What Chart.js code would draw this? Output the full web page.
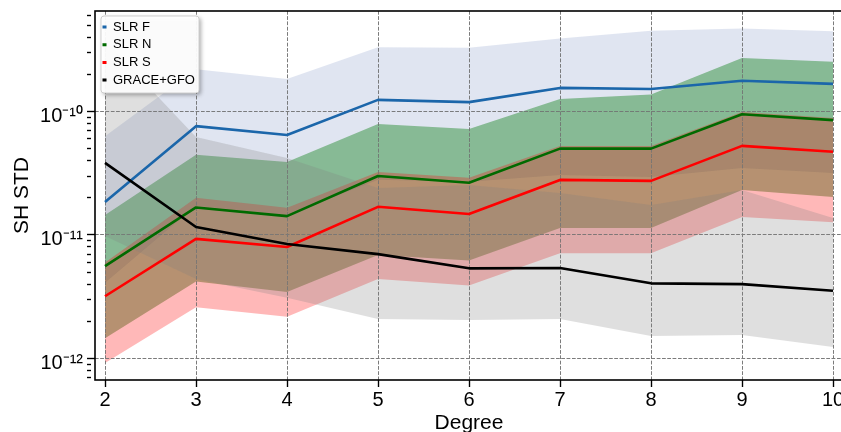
<!DOCTYPE html>
<html>
<head>
<meta charset="utf-8">
<script src="https://cdn.jsdelivr.net/npm/chart.js@4.4.1/dist/chart.umd.min.js"></script>
<style>
html,body{margin:0;padding:0;overflow:hidden;background:#fff}
#wrap{width:860px;height:440px}
</style>
</head>
<body>
<div id="wrap"><canvas id="c" width="860" height="440"></canvas></div>
<script>
// ---------- data ----------
const degrees = [2, 3, 4, 5, 6, 7, 8, 9, 10];
const xTickLabels = ['2', '3', '4', '5', '6', '7', '8', '9', '10'];

const slrF      = [1.85e-11, 7.6e-11, 6.45e-11, 1.24e-10, 1.19e-10, 1.55e-10, 1.52e-10, 1.77e-10, 1.67e-10];
const slrFUpper = [6.3e-11, 2.2e-10, 1.83e-10, 3.3e-10, 3.27e-10, 3.9e-10, 4.5e-10, 4.7e-10, 4.45e-10];
const slrFLower = [4.1e-12, 1.72e-11, 1.45e-11, 2.8e-11, 2.7e-11, 3.06e-11, 2.95e-11, 3.49e-11, 3.18e-11];

const slrN      = [5.6e-12, 1.67e-11, 1.42e-11, 3.0e-11, 2.65e-11, 5.0e-11, 5.0e-11, 9.5e-11, 8.5e-11];
const slrNUpper = [1.45e-11, 4.45e-11, 3.9e-11, 7.9e-11, 7.2e-11, 1.26e-10, 1.37e-10, 2.71e-10, 2.52e-10];
const slrNLower = [1.46e-12, 4.2e-12, 3.45e-12, 6.9e-12, 6.2e-12, 1.14e-11, 1.14e-11, 2.31e-11, 2.03e-11];

const slrS      = [3.19e-12, 9.3e-12, 8.0e-12, 1.69e-11, 1.48e-11, 2.79e-11, 2.74e-11, 5.26e-11, 4.72e-11];
const slrSUpper = [6.0e-12, 2.0e-11, 1.66e-11, 3.24e-11, 2.9e-11, 5.26e-11, 5.26e-11, 9.9e-11, 8.86e-11];
const slrSLower = [9.2e-13, 2.6e-12, 2.18e-12, 4.4e-12, 3.9e-12, 7.1e-12, 7.1e-12, 1.4e-11, 1.27e-11];

const grace      = [3.83e-11, 1.16e-11, 8.45e-12, 7.0e-12, 5.37e-12, 5.4e-12, 4.06e-12, 4.0e-12, 3.54e-12];
const graceUpper = [3.73e-10, 6.2e-11, 4.2e-11, 2.4e-11, 2.54e-11, 2.19e-11, 1.75e-11, 2.31e-11, 1.37e-11];
const graceLower = [9.8e-12, 4.4e-12, 3.1e-12, 2.09e-12, 2.05e-12, 2.09e-12, 1.52e-12, 1.55e-12, 1.24e-12];

const seriesNames = ['SLR F', 'SLR N', 'SLR S', 'GRACE+GFO'];
const yMajorTicks = [1e-12, 1e-11, 1e-10];
const yTickLabels = ['10\u207B\u00B9\u00B2', '10\u207B\u00B9\u00B9', '10\u207B\u00B9\u2070'];
const yMinorMultipliers = [2, 3, 4, 5, 6, 7, 8, 9];

// ---------- style ----------
const FONT = "'Liberation Sans', Arial, Helvetica, sans-serif";
const BLUE = '#1b66aa', GREEN = '#006a00', RED = '#ff0000', BLACK = '#000000';
const BLUE_FILL = 'rgba(70,100,170,0.17)';
const GREEN_FILL = 'rgba(0,120,10,0.40)';
const RED_FILL = 'rgba(255,0,0,0.28)';
const GREY_FILL = 'rgba(128,128,128,0.25)';
const GRID = '#7a7a7a';
const X_MIN = 2 - 10 / 91, X_MAX = 10 + 10 / 91;
const Y_MIN = 6.7e-13, Y_MAX = 6.5e-10;

Chart.defaults.font.family = FONT;
Chart.defaults.color = '#000';

const pts = arr => arr.map((v, i) => ({ x: degrees[i], y: v }));
const isMajor = v => Math.abs(Math.log10(v) - Math.round(Math.log10(v))) < 1e-6;

// axis tick positions (major decades + minor 2..9 multiples inside range)
const yAllTicks = [];
for (let d = -13; d <= -10; d++) {
  const base = Math.pow(10, d);
  if (base >= Y_MIN && base <= Y_MAX) yAllTicks.push(base);
  yMinorMultipliers.forEach(m => {
    const v = m * base;
    if (v > Y_MIN && v < Y_MAX) yAllTicks.push(v);
  });
}
yAllTicks.sort((a, b) => a - b);

const lineDs = (label, data, color, order) => ({
  label, data: pts(data), borderColor: color, backgroundColor: color,
  borderWidth: 2.6, pointRadius: 0, fill: false, order,
  borderJoinStyle: 'round', tension: 0
});
const bandDs = (upper, lower, color, order) => ([
  { label: '_band', data: pts(upper), borderColor: 'rgba(0,0,0,0)', backgroundColor: color,
    borderWidth: 0, pointRadius: 0, fill: '+1', order, tension: 0 },
  { label: '_band', data: pts(lower), borderColor: 'rgba(0,0,0,0)', backgroundColor: 'rgba(0,0,0,0)',
    borderWidth: 0, pointRadius: 0, fill: false, order, tension: 0 }
]);

const datasets = [
  lineDs(seriesNames[0], slrF, BLUE, 4),
  lineDs(seriesNames[1], slrN, GREEN, 3),
  lineDs(seriesNames[2], slrS, RED, 2),
  lineDs(seriesNames[3], grace, BLACK, 1),
  ...bandDs(slrFUpper, slrFLower, BLUE_FILL, 14),
  ...bandDs(slrNUpper, slrNLower, GREEN_FILL, 13),
  ...bandDs(slrSUpper, slrSLower, RED_FILL, 12),
  ...bandDs(graceUpper, graceLower, GREY_FILL, 11)
];

const LEG_PAD = 4.7;
const decorPlugin = {
  id: 'decor',
  beforeDraw(chart) {
    chart.legend.left = 102.5 - LEG_PAD;
    chart.legend.top = 27 - 6.5 - LEG_PAD;
  },
  beforeDatasetsDraw(chart) { chart.$gridDone = false; },
  beforeDatasetDraw(chart, args) {
    if (!chart.$gridDone && args.index < 4) {
      chart.$gridDone = true;
      chart.scales.x.drawGrid(chart.chartArea);
      chart.scales.y.drawGrid(chart.chartArea);
    }
  },
  afterDatasetsDraw(chart) {
    const ctx = chart.ctx, a = chart.chartArea;
    ctx.save();
    ctx.strokeStyle = '#000';
    ctx.lineWidth = 1.6;
    ctx.strokeRect(a.left, a.top, a.right - a.left, a.bottom - a.top);
    ctx.restore();
    // legend frame
    ctx.save();
    ctx.beginPath();
    if (ctx.roundRect) ctx.roundRect(101, 16, 98, 77, 3); else ctx.rect(101, 16, 98, 77);
    ctx.shadowColor = 'rgba(0,0,0,0.35)';
    ctx.shadowBlur = 4; ctx.shadowOffsetX = 2; ctx.shadowOffsetY = 2;
    ctx.fillStyle = 'rgba(255,255,255,0.95)';
    ctx.fill();
    ctx.shadowColor = 'rgba(0,0,0,0)';
    ctx.strokeStyle = '#cfcfcf';
    ctx.lineWidth = 1;
    ctx.stroke();
    ctx.restore();
    chart.legend.draw();
  }
};

new Chart(document.getElementById('c'), {
  type: 'line',
  data: { datasets },
  options: {
    responsive: false,
    animation: false,
    devicePixelRatio: 1,
    layout: { padding: { top: 11, left: 0, right: 17, bottom: 0 } },
    plugins: {
      tooltip: { enabled: false },
      legend: {
        position: 'chartArea',
        align: 'start',
        labels: {
          font: { size: 13, family: FONT },
          color: '#000',
          boxWidth: 4,
          boxHeight: 3,
          padding: LEG_PAD,
          filter: item => item.datasetIndex < 4,
          sort: (a, b) => a.datasetIndex - b.datasetIndex,
          generateLabels(chart) {
            const items = Chart.defaults.plugins.legend.labels.generateLabels(chart);
            items.forEach(it => {
              it.lineWidth = 0;
              it.fillStyle = chart.data.datasets[it.datasetIndex].borderColor;
            });
            return items;
          }
        }
      }
    },
    scales: {
      x: {
        type: 'linear',
        min: X_MIN, max: X_MAX,
        afterBuildTicks(scale) { scale.ticks = degrees.map(v => ({ value: v })); },
        afterFit(scale) { scale.height = 60; scale.paddingLeft = 0; scale.paddingRight = 0; },
        ticks: {
          autoSkip: false, maxRotation: 0, minRotation: 0, padding: 1,
          font: { size: 20 }, color: '#000',
          callback: (v, i) => xTickLabels[i]
        },
        grid: { color: GRID, lineWidth: 0.9, tickColor: '#000', tickLength: 7, tickWidth: 1.2, tickBorderDash: [] },
        border: { display: false, dash: [3.5, 1.8] },
        title: { display: true, text: 'Degree', font: { size: 21 }, color: '#000', padding: { top: 0, bottom: 3.7 } }
      },
      y: {
        type: 'logarithmic',
        min: Y_MIN, max: Y_MAX,
        afterBuildTicks(scale) { scale.ticks = yAllTicks.map(v => ({ value: v })); },
        afterFit(scale) { scale.width = 95; scale.paddingTop = 0; scale.paddingBottom = 0; },
        ticks: {
          autoSkip: false, padding: 4, labelOffset: 5,
          font: { size: 20 }, color: '#000',
          callback: (v) => {
            const k = yMajorTicks.findIndex(t => Math.abs(Math.log10(t) - Math.log10(v)) < 1e-6);
            return k >= 0 ? yTickLabels[k] : '';
          }
        },
        grid: {
          color: c => (c.tick && isMajor(c.tick.value)) ? GRID : 'rgba(0,0,0,0)',
          lineWidth: 0.9,
          tickColor: '#000', tickLength: 8, tickWidth: 1.2,
          tickBorderDash: c => (c.tick && isMajor(c.tick.value)) ? [] : [4, 40]
        },
        border: { display: false, dash: [3.5, 1.8] },
        title: { display: true, text: 'SH STD', font: { size: 21 }, color: '#000', padding: { top: 9.4, bottom: 0 } }
      }
    }
  },
  plugins: [decorPlugin]
});
</script>
</body>
</html>
